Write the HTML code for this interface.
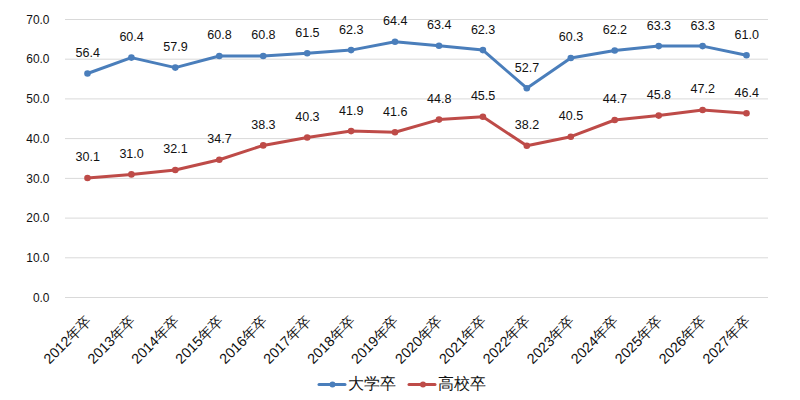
<!DOCTYPE html><html><head><meta charset="utf-8"><style>html,body{margin:0;padding:0;background:#fff;width:800px;height:400px;overflow:hidden}svg{display:block}text{font-family:"Liberation Sans",sans-serif;fill:#111}</style></head><body>
<svg width="800" height="400" viewBox="0 0 800 400">
<line x1="65" y1="297.5" x2="768" y2="297.5" stroke="#d9d9d9" stroke-width="1"/>
<line x1="65" y1="257.8" x2="768" y2="257.8" stroke="#d9d9d9" stroke-width="1"/>
<line x1="65" y1="218.1" x2="768" y2="218.1" stroke="#d9d9d9" stroke-width="1"/>
<line x1="65" y1="178.4" x2="768" y2="178.4" stroke="#d9d9d9" stroke-width="1"/>
<line x1="65" y1="138.6" x2="768" y2="138.6" stroke="#d9d9d9" stroke-width="1"/>
<line x1="65" y1="98.9" x2="768" y2="98.9" stroke="#d9d9d9" stroke-width="1"/>
<line x1="65" y1="59.2" x2="768" y2="59.2" stroke="#d9d9d9" stroke-width="1"/>
<line x1="65" y1="19.5" x2="768" y2="19.5" stroke="#d9d9d9" stroke-width="1"/>
<text transform="translate(49.5,301.7) scale(0.955,1)" font-size="12.5" text-anchor="end">0.0</text>
<text transform="translate(49.5,262.0) scale(0.955,1)" font-size="12.5" text-anchor="end">10.0</text>
<text transform="translate(49.5,222.3) scale(0.955,1)" font-size="12.5" text-anchor="end">20.0</text>
<text transform="translate(49.5,182.6) scale(0.955,1)" font-size="12.5" text-anchor="end">30.0</text>
<text transform="translate(49.5,142.8) scale(0.955,1)" font-size="12.5" text-anchor="end">40.0</text>
<text transform="translate(49.5,103.1) scale(0.955,1)" font-size="12.5" text-anchor="end">50.0</text>
<text transform="translate(49.5,63.4) scale(0.955,1)" font-size="12.5" text-anchor="end">60.0</text>
<text transform="translate(49.5,23.7) scale(0.955,1)" font-size="12.5" text-anchor="end">70.0</text>
<polyline points="87.5,73.5 131.4,57.6 175.3,67.6 219.3,56.0 263.2,56.0 307.2,53.3 351.1,50.1 395.0,41.7 439.0,45.7 482.9,50.1 526.8,88.2 570.8,58.0 614.7,50.5 658.7,46.1 702.6,46.1 746.5,55.2" fill="none" stroke="#4a7ebb" stroke-width="3" stroke-linejoin="round" stroke-linecap="round"/>
<circle cx="87.5" cy="73.5" r="3.3" fill="#4a7ebb"/>
<circle cx="131.4" cy="57.6" r="3.3" fill="#4a7ebb"/>
<circle cx="175.3" cy="67.6" r="3.3" fill="#4a7ebb"/>
<circle cx="219.3" cy="56.0" r="3.3" fill="#4a7ebb"/>
<circle cx="263.2" cy="56.0" r="3.3" fill="#4a7ebb"/>
<circle cx="307.2" cy="53.3" r="3.3" fill="#4a7ebb"/>
<circle cx="351.1" cy="50.1" r="3.3" fill="#4a7ebb"/>
<circle cx="395.0" cy="41.7" r="3.3" fill="#4a7ebb"/>
<circle cx="439.0" cy="45.7" r="3.3" fill="#4a7ebb"/>
<circle cx="482.9" cy="50.1" r="3.3" fill="#4a7ebb"/>
<circle cx="526.8" cy="88.2" r="3.3" fill="#4a7ebb"/>
<circle cx="570.8" cy="58.0" r="3.3" fill="#4a7ebb"/>
<circle cx="614.7" cy="50.5" r="3.3" fill="#4a7ebb"/>
<circle cx="658.7" cy="46.1" r="3.3" fill="#4a7ebb"/>
<circle cx="702.6" cy="46.1" r="3.3" fill="#4a7ebb"/>
<circle cx="746.5" cy="55.2" r="3.3" fill="#4a7ebb"/>
<polyline points="87.5,178.0 131.4,174.4 175.3,170.0 219.3,159.7 263.2,145.4 307.2,137.5 351.1,131.1 395.0,132.3 439.0,119.6 482.9,116.8 526.8,145.8 570.8,136.7 614.7,120.0 658.7,115.6 702.6,110.0 746.5,113.2" fill="none" stroke="#be4b48" stroke-width="3" stroke-linejoin="round" stroke-linecap="round"/>
<circle cx="87.5" cy="178.0" r="3.3" fill="#be4b48"/>
<circle cx="131.4" cy="174.4" r="3.3" fill="#be4b48"/>
<circle cx="175.3" cy="170.0" r="3.3" fill="#be4b48"/>
<circle cx="219.3" cy="159.7" r="3.3" fill="#be4b48"/>
<circle cx="263.2" cy="145.4" r="3.3" fill="#be4b48"/>
<circle cx="307.2" cy="137.5" r="3.3" fill="#be4b48"/>
<circle cx="351.1" cy="131.1" r="3.3" fill="#be4b48"/>
<circle cx="395.0" cy="132.3" r="3.3" fill="#be4b48"/>
<circle cx="439.0" cy="119.6" r="3.3" fill="#be4b48"/>
<circle cx="482.9" cy="116.8" r="3.3" fill="#be4b48"/>
<circle cx="526.8" cy="145.8" r="3.3" fill="#be4b48"/>
<circle cx="570.8" cy="136.7" r="3.3" fill="#be4b48"/>
<circle cx="614.7" cy="120.0" r="3.3" fill="#be4b48"/>
<circle cx="658.7" cy="115.6" r="3.3" fill="#be4b48"/>
<circle cx="702.6" cy="110.0" r="3.3" fill="#be4b48"/>
<circle cx="746.5" cy="113.2" r="3.3" fill="#be4b48"/>
<text transform="translate(87.7,56.9) scale(0.93,1)" font-size="13.5" text-anchor="middle">56.4</text>
<text transform="translate(131.6,41.0) scale(0.93,1)" font-size="13.5" text-anchor="middle">60.4</text>
<text transform="translate(175.5,51.0) scale(0.93,1)" font-size="13.5" text-anchor="middle">57.9</text>
<text transform="translate(219.5,39.4) scale(0.93,1)" font-size="13.5" text-anchor="middle">60.8</text>
<text transform="translate(263.4,39.4) scale(0.93,1)" font-size="13.5" text-anchor="middle">60.8</text>
<text transform="translate(307.4,36.7) scale(0.93,1)" font-size="13.5" text-anchor="middle">61.5</text>
<text transform="translate(351.3,33.5) scale(0.93,1)" font-size="13.5" text-anchor="middle">62.3</text>
<text transform="translate(395.2,25.1) scale(0.93,1)" font-size="13.5" text-anchor="middle">64.4</text>
<text transform="translate(439.2,29.1) scale(0.93,1)" font-size="13.5" text-anchor="middle">63.4</text>
<text transform="translate(483.1,33.5) scale(0.93,1)" font-size="13.5" text-anchor="middle">62.3</text>
<text transform="translate(527.0,71.6) scale(0.93,1)" font-size="13.5" text-anchor="middle">52.7</text>
<text transform="translate(571.0,41.4) scale(0.93,1)" font-size="13.5" text-anchor="middle">60.3</text>
<text transform="translate(614.9,33.9) scale(0.93,1)" font-size="13.5" text-anchor="middle">62.2</text>
<text transform="translate(658.9,29.5) scale(0.93,1)" font-size="13.5" text-anchor="middle">63.3</text>
<text transform="translate(702.8,29.5) scale(0.93,1)" font-size="13.5" text-anchor="middle">63.3</text>
<text transform="translate(746.7,38.6) scale(0.93,1)" font-size="13.5" text-anchor="middle">61.0</text>
<text transform="translate(87.7,161.4) scale(0.93,1)" font-size="13.5" text-anchor="middle">30.1</text>
<text transform="translate(131.6,157.8) scale(0.93,1)" font-size="13.5" text-anchor="middle">31.0</text>
<text transform="translate(175.5,153.4) scale(0.93,1)" font-size="13.5" text-anchor="middle">32.1</text>
<text transform="translate(219.5,143.1) scale(0.93,1)" font-size="13.5" text-anchor="middle">34.7</text>
<text transform="translate(263.4,128.8) scale(0.93,1)" font-size="13.5" text-anchor="middle">38.3</text>
<text transform="translate(307.4,120.9) scale(0.93,1)" font-size="13.5" text-anchor="middle">40.3</text>
<text transform="translate(351.3,114.5) scale(0.93,1)" font-size="13.5" text-anchor="middle">41.9</text>
<text transform="translate(395.2,115.7) scale(0.93,1)" font-size="13.5" text-anchor="middle">41.6</text>
<text transform="translate(439.2,103.0) scale(0.93,1)" font-size="13.5" text-anchor="middle">44.8</text>
<text transform="translate(483.1,100.2) scale(0.93,1)" font-size="13.5" text-anchor="middle">45.5</text>
<text transform="translate(527.0,129.2) scale(0.93,1)" font-size="13.5" text-anchor="middle">38.2</text>
<text transform="translate(571.0,120.1) scale(0.93,1)" font-size="13.5" text-anchor="middle">40.5</text>
<text transform="translate(614.9,103.4) scale(0.93,1)" font-size="13.5" text-anchor="middle">44.7</text>
<text transform="translate(658.9,99.0) scale(0.93,1)" font-size="13.5" text-anchor="middle">45.8</text>
<text transform="translate(702.8,93.4) scale(0.93,1)" font-size="13.5" text-anchor="middle">47.2</text>
<text transform="translate(746.7,96.6) scale(0.93,1)" font-size="13.5" text-anchor="middle">46.4</text>
<text transform="translate(84.5,315) rotate(-45)" font-size="14.3" text-anchor="end" dominant-baseline="hanging">2012年卒</text>
<text transform="translate(128.4,315) rotate(-45)" font-size="14.3" text-anchor="end" dominant-baseline="hanging">2013年卒</text>
<text transform="translate(172.3,315) rotate(-45)" font-size="14.3" text-anchor="end" dominant-baseline="hanging">2014年卒</text>
<text transform="translate(216.3,315) rotate(-45)" font-size="14.3" text-anchor="end" dominant-baseline="hanging">2015年卒</text>
<text transform="translate(260.2,315) rotate(-45)" font-size="14.3" text-anchor="end" dominant-baseline="hanging">2016年卒</text>
<text transform="translate(304.2,315) rotate(-45)" font-size="14.3" text-anchor="end" dominant-baseline="hanging">2017年卒</text>
<text transform="translate(348.1,315) rotate(-45)" font-size="14.3" text-anchor="end" dominant-baseline="hanging">2018年卒</text>
<text transform="translate(392.0,315) rotate(-45)" font-size="14.3" text-anchor="end" dominant-baseline="hanging">2019年卒</text>
<text transform="translate(436.0,315) rotate(-45)" font-size="14.3" text-anchor="end" dominant-baseline="hanging">2020年卒</text>
<text transform="translate(479.9,315) rotate(-45)" font-size="14.3" text-anchor="end" dominant-baseline="hanging">2021年卒</text>
<text transform="translate(523.8,315) rotate(-45)" font-size="14.3" text-anchor="end" dominant-baseline="hanging">2022年卒</text>
<text transform="translate(567.8,315) rotate(-45)" font-size="14.3" text-anchor="end" dominant-baseline="hanging">2023年卒</text>
<text transform="translate(611.7,315) rotate(-45)" font-size="14.3" text-anchor="end" dominant-baseline="hanging">2024年卒</text>
<text transform="translate(655.7,315) rotate(-45)" font-size="14.3" text-anchor="end" dominant-baseline="hanging">2025年卒</text>
<text transform="translate(699.6,315) rotate(-45)" font-size="14.3" text-anchor="end" dominant-baseline="hanging">2026年卒</text>
<text transform="translate(743.5,315) rotate(-45)" font-size="14.3" text-anchor="end" dominant-baseline="hanging">2027年卒</text>
<line x1="319" y1="384.5" x2="345" y2="384.5" stroke="#4a7ebb" stroke-width="3" stroke-linecap="round"/><circle cx="332.5" cy="384.5" r="3" fill="#4a7ebb"/>
<text x="347.5" y="388.5" font-size="16">大学卒</text>
<line x1="409" y1="384.5" x2="435" y2="384.5" stroke="#be4b48" stroke-width="3" stroke-linecap="round"/><circle cx="423" cy="384.5" r="3" fill="#be4b48"/>
<text x="438" y="388.5" font-size="16">高校卒</text>
</svg></body></html>
